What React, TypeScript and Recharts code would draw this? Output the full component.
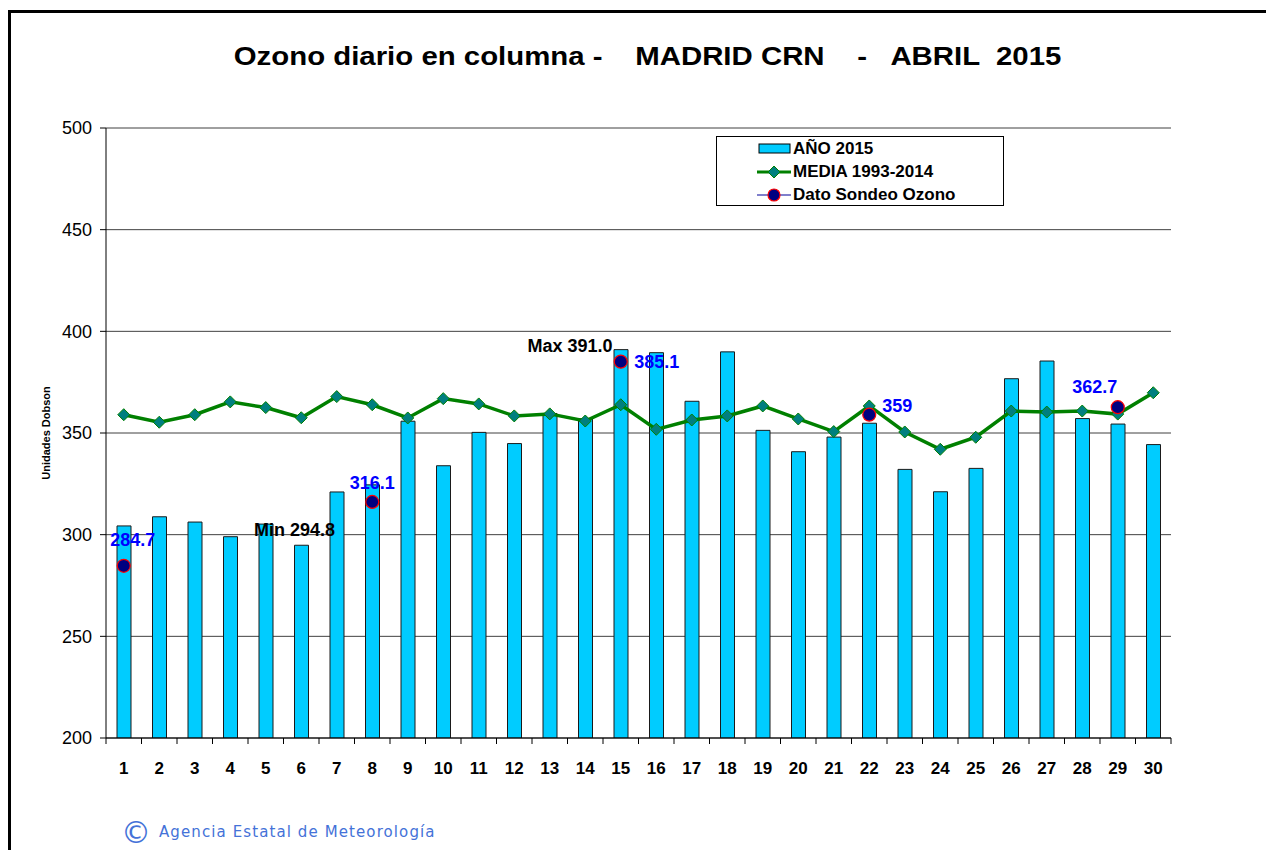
import React from "react";
import { ComposedChart, Bar, Line, XAxis, YAxis, CartesianGrid, LabelList } from "recharts";

// --- data ---
const days = ["1","2","3","4","5","6","7","8","9","10","11","12","13","14","15","16","17","18","19","20","21","22","23","24","25","26","27","28","29","30"];
const ozono2015 = [304.3, 308.8, 306.2, 299.0, 305.2, 294.8, 321.0, 324.5, 355.8, 333.9, 350.3, 344.8, 359.6, 357.0, 391.0, 389.5, 365.6, 389.9, 351.3, 340.8, 348.0, 354.8, 332.1, 321.1, 332.6, 376.7, 385.4, 357.1, 354.4, 344.3];
const media = [359.0, 355.3, 359.0, 365.3, 362.5, 357.5, 367.9, 363.9, 357.4, 366.9, 364.3, 358.4, 359.4, 355.9, 363.9, 351.8, 356.4, 358.4, 363.3, 356.9, 350.7, 363.3, 350.5, 342.0, 347.9, 360.8, 360.3, 360.8, 359.3, 369.8];
const sondeo: (number | null)[] = [284.7, null, null, null, null, null, null, 316.1, null, null, null, null, null, null, 385.1, null, null, null, null, null, null, 359, null, null, null, null, null, null, 362.7, null];
const yTicks = [200, 250, 300, 350, 400, 450, 500];

const data = days.map((d, i) => ({ day: d, ano: ozono2015[i], media: media[i], sondeo: sondeo[i] }));

// --- layout ---
const W = 1263;
const H = 837;
const MARGIN = { top: 115, right: 103, bottom: 72, left: 0 };
const YAXIS_W = 95;
const PLOT_W = W - MARGIN.left - MARGIN.right - YAXIS_W;
const BAND = PLOT_W / days.length;
const FONT = "'Liberation Sans', Arial, sans-serif";

// manual label placement, like the hand-moved labels in the original
const sondeoLabelOffset: Record<number, [number, number]> = {
  0: [9, -26],
  7: [0, -19],
  14: [36, 0],
  21: [28, -9],
  28: [-23, -20],
};
const maxIdx = ozono2015.indexOf(Math.max(...ozono2015));
const minIdx = ozono2015.indexOf(Math.min(...ozono2015));

const XTick = (props: any) => {
  const { x, y, payload, index } = props;
  const axisY = y - 6;
  const half = BAND / 2;
  return (
    <g>
      <line x1={x - half} x2={x - half} y1={axisY} y2={axisY + 6} stroke="#000" />
      {index === days.length - 1 && <line x1={x + half} x2={x + half} y1={axisY} y2={axisY + 6} stroke="#000" />}
      <text x={x} y={axisY + 36} textAnchor="middle" fontSize={17} fontWeight="bold" fontFamily={FONT} fill="#000">
        {payload.value}
      </text>
    </g>
  );
};

const Diamond = (props: any) => {
  const { cx, cy } = props;
  if (cx == null || cy == null) return null;
  const r = 6;
  return (
    <path
      d={`M${cx},${cy - r}L${cx + r},${cy}L${cx},${cy + r}L${cx - r},${cy}Z`}
      fill="#007F7F"
      stroke="#008000"
      strokeWidth={1}
    />
  );
};

const SondeoDot = (props: any) => {
  const { cx, cy, value } = props;
  if (cx == null || cy == null || value == null) return null;
  return <circle cx={cx} cy={cy} r={6.5} fill="#000080" stroke="#FF0000" strokeWidth={1.2} />;
};

const SondeoLabel = (props: any) => {
  const { x, y, value, index } = props;
  if (value == null) return null;
  const off = sondeoLabelOffset[index] || [0, -20];
  return (
    <text x={x + off[0]} y={y + off[1]} textAnchor="middle" dominantBaseline="central" fontSize={18} fontWeight="bold" fontFamily={FONT} fill="#0000FF">
      {String(value)}
    </text>
  );
};

const ExtremeLabel = (props: any) => {
  const { x, y, width, value, index } = props;
  let txt = "";
  let dx = 0;
  let dy = 0;
  if (index === maxIdx) {
    txt = `Max ${Number(value).toFixed(1)}`;
    dx = -51;
    dy = -4;
  } else if (index === minIdx) {
    txt = `Min ${Number(value).toFixed(1)}`;
    dx = -7;
    dy = -15;
  } else return null;
  return (
    <text x={x + width / 2 + dx} y={y + dy} textAnchor="middle" dominantBaseline="central" fontSize={18} fontWeight="bold" fontFamily={FONT} fill="#000">
      {txt}
    </text>
  );
};

const LegendBox = () => (
  <div
    style={{
      position: "absolute",
      left: 705,
      top: 123,
      width: 286,
      height: 68,
      border: "1px solid #000",
      background: "#fff",
      fontFamily: FONT,
      fontWeight: "bold",
      fontSize: 17,
    }}
  >
    {[
      { label: "AÑO 2015", kind: "bar" },
      { label: "MEDIA 1993-2014", kind: "line" },
      { label: "Dato Sondeo Ozono", kind: "dot" },
    ].map((it, i) => (
      <div key={i} style={{ position: "absolute", left: 40, top: 1 + i * 23, height: 22, display: "flex", alignItems: "center" }}>
        <svg width={34} height={22}>
          {it.kind === "bar" && <rect x={2} y={6} width={31} height={9} fill="#00CCFF" stroke="#000" />}
          {it.kind === "line" && (
            <g>
              <line x1={0} x2={34} y1={11} y2={11} stroke="#008000" strokeWidth={3} />
              <path d="M17,5L23,11L17,17L11,11Z" fill="#007F7F" stroke="#008000" />
            </g>
          )}
          {it.kind === "dot" && (
            <g>
              <line x1={0} x2={34} y1={11} y2={11} stroke="#5555BB" strokeWidth={1.5} />
              <circle cx={17} cy={11} r={6} fill="#000080" stroke="#FF0000" strokeWidth={1.2} />
            </g>
          )}
        </svg>
        <span style={{ marginLeft: 2 }}>{it.label}</span>
      </div>
    ))}
  </div>
);

export default function App() {
  return (
    <div style={{ paddingTop: 2 }}>
      <style>{"html,body{overflow:hidden}"}</style>
      <div style={{ borderLeft: "3px solid #000", borderTop: "3px solid #000", width: 1300, height: 900, boxSizing: "border-box" }}>
        <div style={{ position: "relative", width: W, height: H }}>
          <div
            style={{
              position: "absolute",
              left: 0,
              width: 1273,
              top: 28,
              textAlign: "center",
              whiteSpace: "pre",
              fontFamily: FONT,
              fontWeight: "bold",
              fontSize: 26,
              transform: "scaleX(1.13)",
              transformOrigin: "636.5px 50%",
            }}
          >
            {"Ozono diario en columna -    MADRID CRN    -   ABRIL  2015"}
          </div>
          <div
            style={{
              position: "absolute",
              left: 35,
              top: 420,
              transform: "translate(-50%,-50%) rotate(-90deg)",
              whiteSpace: "nowrap",
              fontFamily: FONT,
              fontWeight: "bold",
              fontSize: 11,
            }}
          >
            Unidades Dobson
          </div>
          <ComposedChart width={W} height={H} data={data} margin={MARGIN} barCategoryGap={0}>
            <CartesianGrid horizontal vertical={false} stroke="#404040" />
            <XAxis
              dataKey="day"
              interval={0}
              tickLine={false}
              tickSize={6}
              tickMargin={0}
              height={40}
              axisLine={{ stroke: "#000" }}
              tick={<XTick />}
            />
            <YAxis
              domain={[200, 500]}
              ticks={yTicks}
              width={YAXIS_W}
              tickSize={6}
              tickMargin={8}
              axisLine={{ stroke: "#000" }}
              tickLine={{ stroke: "#000" }}
              tick={{ fontSize: 18, fill: "#000", fontFamily: FONT }}
              allowDataOverflow
            />
            <YAxis yAxisId="frame" orientation="right" width={0} tick={false} axisLine={{ stroke: "#888" }} tickLine={false} />
            <Bar dataKey="ano" barSize={14} fill="#00CCFF" stroke="#1a1a1a" strokeWidth={1} isAnimationActive={false}>
              <LabelList dataKey="ano" content={<ExtremeLabel />} />
            </Bar>
            <Line dataKey="media" stroke="#008000" strokeWidth={3.5} dot={<Diamond />} activeDot={false} isAnimationActive={false} />
            <Line dataKey="sondeo" stroke="#5555BB" strokeWidth={1} dot={<SondeoDot />} activeDot={false} isAnimationActive={false}>
              <LabelList dataKey="sondeo" content={<SondeoLabel />} />
            </Line>
          </ComposedChart>
          <LegendBox />
          <div style={{ position: "absolute", left: 110, top: 800, color: "#4472D8", fontFamily: "'DejaVu Sans', Verdana, sans-serif", display: "flex", alignItems: "center", lineHeight: 1.3 }}>
            <span style={{ fontSize: 30, marginRight: 8 }}>©</span>
            <span style={{ fontSize: 15, letterSpacing: 1.1 }}>Agencia Estatal de Meteorología</span>
          </div>
        </div>
      </div>
    </div>
  );
}
